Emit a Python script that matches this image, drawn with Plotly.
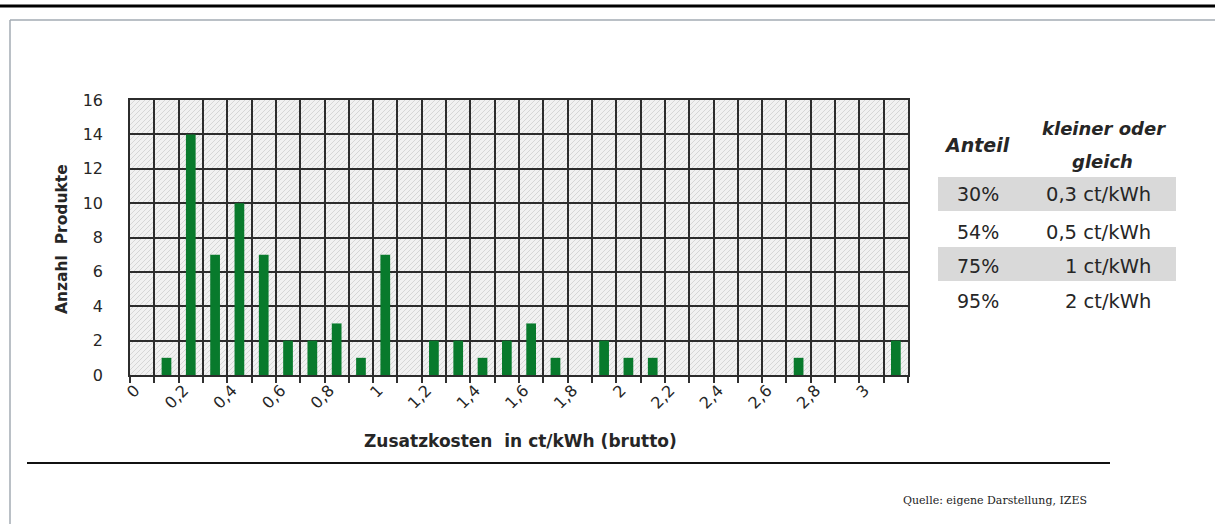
import base64
import plotly.graph_objects as go

# Zusatzkosten classes (ct/kWh, brutto) and number of products per class
cost_classes = ["0", "0,1", "0,2", "0,3", "0,4", "0,5", "0,6", "0,7", "0,8", "0,9",
                "1", "1,1", "1,2", "1,3", "1,4", "1,5", "1,6", "1,7", "1,8", "1,9",
                "2", "2,1", "2,2", "2,3", "2,4", "2,5", "2,6", "2,7", "2,8", "2,9",
                "3", "3,1"]
product_counts = [0, 1, 14, 7, 10, 7, 2, 2, 3, 1,
                  7, 0, 2, 2, 1, 2, 3, 1, 0, 2,
                  1, 1, 0, 0, 0, 0, 0, 1, 0, 0,
                  0, 2]
# only every second class is labelled on the axis
tick_text = ["0", "", "0,2", "", "0,4", "", "0,6", "", "0,8", "",
             "1", "", "1,2", "", "1,4", "", "1,6", "", "1,8", "",
             "2", "", "2,2", "", "2,4", "", "2,6", "", "2,8", "",
             "3", ""]

# cumulative shares table
shares = ["30%", "54%", "75%", "95%"]
limits = ["0,3 ct/kWh", "0,5 ct/kWh", "1 ct/kWh", "2 ct/kWh"]

W, H = 1215, 524
L, R, T, B = 130, 908, 100, 375


def px_x(p):
    return (p - L) / (R - L)


def px_y(p):
    return (B - p) / (B - T)


FONT = "DejaVu Sans"
TXT = "#262626"

# diagonal hatch for the plot background
pw, ph = R - L, B - T
svg = (
    f'<svg xmlns="http://www.w3.org/2000/svg" width="{pw}" height="{ph}" viewBox="0 0 {pw} {ph}">'
    '<defs><pattern id="h" patternUnits="userSpaceOnUse" width="5" height="5">'
    '<rect width="5" height="5" fill="#f1f1f1"/>'
    '<path d="M-1,1 L1,-1 M0,5 L5,0 M4,6 L6,4" stroke="#d6d6d6" stroke-width="1"/>'
    '</pattern></defs>'
    f'<rect width="{pw}" height="{ph}" fill="url(#h)"/></svg>'
)
hatch_src = "data:image/svg+xml;base64," + base64.b64encode(svg.encode()).decode()

fig = go.Figure()
fig.add_trace(go.Bar(
    x=cost_classes,
    y=product_counts,
    width=0.4,
    marker=dict(color="#087a2c", line=dict(width=0)),
    hoverinfo="x+y",
))

fig.update_xaxes(
    type="category",
    tickmode="array",
    tickvals=cost_classes,
    ticktext=tick_text,
    tickson="boundaries",
    tickangle=-45,
    ticks="outside",
    ticklen=6,
    tickwidth=1.5,
    tickcolor="#303030",
    ticklabelstandoff=-2,
    ticklabelshift=-7,
    showgrid=True,
    gridcolor="#2c2c2c",
    gridwidth=1.6,
    showline=True,
    linecolor="#2c2c2c",
    linewidth=1.6,
    mirror=True,
    tickfont=dict(family=FONT, size=16, color=TXT),
    range=[-0.5, len(cost_classes) - 0.5],
)
fig.update_yaxes(
    range=[0, 16],
    dtick=2,
    showgrid=True,
    gridcolor="#2c2c2c",
    gridwidth=1.6,
    showline=True,
    linecolor="#2c2c2c",
    linewidth=1.6,
    mirror=True,
    zeroline=False,
    ticks="",
    ticklabelstandoff=22,
    tickfont=dict(family=FONT, size=16, color=TXT),
)

shapes = [
    # heavy rule across the top
    dict(type="line", xref="paper", yref="paper", x0=px_x(0), x1=px_x(W), y0=px_y(6), y1=px_y(6),
         line=dict(color="#000000", width=3)),
    # light frame around the chart area
    dict(type="line", xref="paper", yref="paper", x0=px_x(10), x1=px_x(W), y0=px_y(20), y1=px_y(20),
         line=dict(color="#a3abb3", width=1.5)),
    dict(type="line", xref="paper", yref="paper", x0=px_x(10), x1=px_x(10), y0=px_y(20), y1=px_y(H),
         line=dict(color="#a3abb3", width=1.5)),
    # rule under the chart
    dict(type="line", xref="paper", yref="paper", x0=px_x(27), x1=px_x(1110), y0=px_y(463), y1=px_y(463),
         line=dict(color="#111111", width=2)),
]
# shaded rows of the table
for top, bot in [(177, 211), (247, 281)]:
    shapes.append(dict(type="rect", xref="paper", yref="paper", layer="below",
                       x0=px_x(938), x1=px_x(1176), y0=px_y(bot), y1=px_y(top),
                       fillcolor="#d9d9d9", line=dict(width=0)))

annotations = [
    dict(text="<b>Zusatzkosten\u00a0 in ct/kWh (brutto)</b>", x=px_x(520), y=px_y(441),
         font=dict(family=FONT, size=17, color=TXT)),
    dict(text="<b>Anzahl\u00a0 Produkte</b>", x=px_x(62), y=px_y(239), textangle=-90,
         font=dict(family=FONT, size=15.5, color=TXT)),
    dict(text="<b><i>Anteil</i></b>", x=px_x(977), y=px_y(145),
         font=dict(family=FONT, size=19, color=TXT)),
    dict(text="<b><i>kleiner oder</i></b>", x=px_x(1104), y=px_y(128),
         font=dict(family=FONT, size=18, color=TXT)),
    dict(text="<b><i>gleich</i></b>", x=px_x(1102), y=px_y(161),
         font=dict(family=FONT, size=18, color=TXT)),
    dict(text="Quelle: eigene Darstellung, IZES", x=px_x(1089), y=px_y(500), xanchor="right",
         font=dict(family="DejaVu Serif", size=11, color="#222222")),
]
for share, limit, yc in zip(shares, limits, [194, 232, 266, 301]):
    annotations.append(dict(text=share, x=px_x(1001), y=px_y(yc), xanchor="right",
                            font=dict(family=FONT, size=19, color=TXT)))
    annotations.append(dict(text=limit, x=px_x(1153), y=px_y(yc), xanchor="right",
                            font=dict(family=FONT, size=19.5, color=TXT)))
for a in annotations:
    a.update(xref="paper", yref="paper", showarrow=False)
    a.setdefault("xanchor", "center")
    a.setdefault("yanchor", "middle")

fig.update_layout(
    width=W,
    height=H,
    margin=dict(l=L, r=W - R, t=T, b=H - B, pad=0),
    paper_bgcolor="#ffffff",
    plot_bgcolor="rgba(0,0,0,0)",
    showlegend=False,
    shapes=shapes,
    annotations=annotations,
    images=[dict(source=hatch_src, xref="paper", yref="paper", x=0, y=1, sizex=1, sizey=1,
                 xanchor="left", yanchor="top", sizing="stretch", layer="below")],
)

fig.write_html("out.html")
